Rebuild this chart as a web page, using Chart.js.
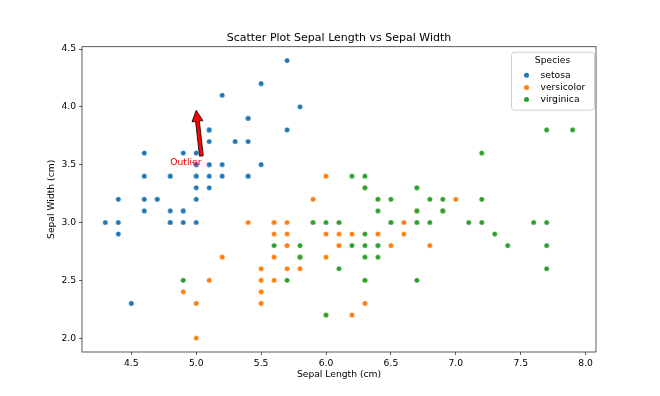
<!DOCTYPE html>
<html><head><meta charset="utf-8">
<script src="https://cdn.jsdelivr.net/npm/chart.js@4/dist/chart.umd.min.js"></script>
<style>html,body{margin:0;padding:0;background:#fff}</style>
</head><body>
<canvas id="c" width="660" height="396"></canvas>
<script>
const species = ['setosa', 'versicolor', 'virginica'];
const speciesColors = ['#1f77b4', '#ff7f0e', '#2ca02c'];

const setosaLength = [5.1,4.9,4.7,4.6,5.0,5.4,4.6,5.0,4.4,4.9,5.4,4.8,4.8,4.3,5.8,5.7,5.4,5.1,5.7,5.1,5.4,5.1,4.6,5.1,4.8,5.0,5.0,5.2,5.2,4.7,4.8,5.4,5.2,5.5,4.9,5.0,5.5,4.9,4.4,5.1,5.0,4.5,4.4,5.0,5.1,4.8,5.1,4.6,5.3,5.0];
const setosaWidth  = [3.5,3.0,3.2,3.1,3.6,3.9,3.4,3.4,2.9,3.1,3.7,3.4,3.0,3.0,4.0,4.4,3.9,3.5,3.8,3.8,3.4,3.7,3.6,3.3,3.4,3.0,3.4,3.5,3.4,3.2,3.1,3.4,4.1,4.2,3.1,3.2,3.5,3.6,3.0,3.4,3.5,2.3,3.2,3.5,3.8,3.0,3.8,3.2,3.7,3.3];

const versicolorLength = [7.0,6.4,6.9,5.5,6.5,5.7,6.3,4.9,6.6,5.2,5.0,5.9,6.0,6.1,5.6,6.7,5.6,5.8,6.2,5.6,5.9,6.1,6.3,6.1,6.4,6.6,6.8,6.7,6.0,5.7,5.5,5.5,5.8,6.0,5.4,6.0,6.7,6.3,5.6,5.5,5.5,6.1,5.8,5.0,5.6,5.7,5.7,6.2,5.1,5.7];
const versicolorWidth  = [3.2,3.2,3.1,2.3,2.8,2.8,3.3,2.4,2.9,2.7,2.0,3.0,2.2,2.9,2.9,3.1,3.0,2.7,2.2,2.5,3.2,2.8,2.5,2.8,2.9,3.0,2.8,3.0,2.9,2.6,2.4,2.4,2.7,2.7,3.0,3.4,3.1,2.3,3.0,2.5,2.6,3.0,2.6,2.3,2.7,3.0,2.9,2.9,2.5,2.8];

const virginicaLength = [6.3,5.8,7.1,6.3,6.5,7.6,4.9,7.3,6.7,7.2,6.5,6.4,6.8,5.7,5.8,6.4,6.5,7.7,7.7,6.0,6.9,5.6,7.7,6.3,6.7,7.2,6.2,6.1,6.4,7.2,7.4,7.9,6.4,6.3,6.1,7.7,6.3,6.4,6.0,6.9,6.7,6.9,5.8,6.8,6.7,6.7,6.3,6.5,6.2,5.9];
const virginicaWidth  = [3.3,2.7,3.0,2.9,3.0,3.0,2.5,2.9,2.5,3.6,3.2,2.7,3.0,2.5,2.8,3.2,3.0,3.8,2.6,2.2,3.2,2.8,2.8,2.7,3.3,3.2,2.8,3.0,2.8,3.0,2.8,3.8,2.8,2.8,2.6,3.0,3.4,3.1,3.0,3.1,3.1,3.1,2.7,3.2,3.3,3.0,2.5,3.0,3.4,3.0];

const xTicks = [4.5, 5.0, 5.5, 6.0, 6.5, 7.0, 7.5, 8.0];
const yTicks = [2.0, 2.5, 3.0, 3.5, 4.0, 4.5];
const xRange = [4.12, 8.08];
const yRange = [1.88, 4.52];

const chartTitle = 'Scatter Plot Sepal Length vs Sepal Width';
const xTitle = 'Sepal Length (cm)';
const yTitle = 'Sepal Width (cm)';
const legendTitle = 'Species';

const annotationText = 'Outlier';
const annotationTextAt = [4.92, 3.52];
const annotationTail = [5.04, 3.575];
const annotationTip = [5.0, 3.97];

const FONT = '"DejaVu Sans", sans-serif';

function zip(xs, ys) { return xs.map((x, i) => ({ x: x, y: ys[i] })); }

const seriesData = [
  zip(setosaLength, setosaWidth),
  zip(versicolorLength, versicolorWidth),
  zip(virginicaLength, virginicaWidth)
];

const decor = {
  id: 'decor',
  beforeDraw(chart) {
    const ctx = chart.ctx;
    ctx.save();
    ctx.fillStyle = '#fff';
    ctx.fillRect(0, 0, chart.width, chart.height);
    ctx.restore();
  },
  afterDatasetsDraw(chart) {
    const ctx = chart.ctx, ca = chart.chartArea;
    const xs = chart.scales.x, ys = chart.scales.y;
    ctx.save();
    // frame
    ctx.strokeStyle = '#333';
    ctx.lineWidth = 0.8;
    ctx.strokeRect(ca.left, ca.top, ca.right - ca.left, ca.bottom - ca.top);

    // title
    ctx.fillStyle = '#000';
    ctx.textAlign = 'center';
    ctx.textBaseline = 'middle';
    ctx.font = '11px ' + FONT;
    ctx.fillText(chartTitle, (ca.left + ca.right) / 2, ca.top - 9);

    // axis titles
    ctx.font = '9.2px ' + FONT;
    ctx.fillText(xTitle, (ca.left + ca.right) / 2, ca.bottom + 23);
    ctx.save();
    ctx.translate(ca.left - 30, (ca.top + ca.bottom) / 2);
    ctx.rotate(-Math.PI / 2);
    ctx.fillText(yTitle, 0, 0);
    ctx.restore();

    // annotation arrow
    const tx = xs.getPixelForValue(annotationTail[0]), ty = ys.getPixelForValue(annotationTail[1]);
    const hx = xs.getPixelForValue(annotationTip[0]), hy = ys.getPixelForValue(annotationTip[1]);
    const dx = hx - tx, dy = hy - ty, L = Math.hypot(dx, dy);
    const ux = dx / L, uy = dy / L, nx = -uy, ny = ux;
    const hl = 11, hw = 5.5, sw = 1.9;
    const bx = hx - ux * hl, by = hy - uy * hl;
    ctx.beginPath();
    ctx.moveTo(tx + nx * sw, ty + ny * sw);
    ctx.lineTo(bx + nx * sw, by + ny * sw);
    ctx.lineTo(bx + nx * hw, by + ny * hw);
    ctx.lineTo(hx, hy);
    ctx.lineTo(bx - nx * hw, by - ny * hw);
    ctx.lineTo(bx - nx * sw, by - ny * sw);
    ctx.lineTo(tx - nx * sw, ty - ny * sw);
    ctx.closePath();
    ctx.fillStyle = '#ff0000';
    ctx.fill();
    ctx.strokeStyle = '#000';
    ctx.lineWidth = 0.8;
    ctx.stroke();

    ctx.fillStyle = '#e00000';
    ctx.font = '9.2px ' + FONT;
    ctx.textAlign = 'center';
    ctx.textBaseline = 'middle';
    ctx.fillText(annotationText, xs.getPixelForValue(annotationTextAt[0]), ys.getPixelForValue(annotationTextAt[1]));

    // legend
    const bw = 83, bh = 58;
    const bxr = ca.right - 2, byt = ca.top + 5;
    const lx = bxr - bw;
    ctx.beginPath();
    ctx.roundRect(lx + 0.5, byt + 0.5, bw, bh, 3);
    ctx.fillStyle = 'rgba(255,255,255,0.8)';
    ctx.fill();
    ctx.strokeStyle = '#d0d0d0';
    ctx.lineWidth = 1;
    ctx.stroke();
    ctx.fillStyle = '#000';
    ctx.textAlign = 'center';
    ctx.fillText(legendTitle, lx + bw / 2, byt + 9);
    chart.data.datasets.forEach((ds, i) => {
      const ry = byt + 23.5 + i * 12.2;
      ctx.beginPath();
      ctx.arc(lx + 15.5, ry, 2.5, 0, Math.PI * 2);
      ctx.fillStyle = ds.backgroundColor;
      ctx.fill();
      ctx.fillStyle = '#000';
      ctx.textAlign = 'left';
      ctx.fillText(ds.label, lx + 29.5, ry);
    });
    ctx.restore();
  }
};

new Chart(document.getElementById('c'), {
  type: 'scatter',
  data: {
    datasets: species.map((name, i) => ({
      label: name,
      data: seriesData[i],
      backgroundColor: speciesColors[i],
      borderColor: '#ffffff',
      borderWidth: 0.4,
      pointRadius: 2.6,
      order: 2 - i
    }))
  },
  options: {
    responsive: false,
    devicePixelRatio: 1,
    animation: false,
    events: [],
    layout: { padding: { top: 46.7, right: 64, bottom: 0, left: 0 } },
    plugins: { legend: { display: false }, tooltip: { enabled: false }, title: { display: false } },
    scales: {
      x: {
        type: 'linear',
        min: xRange[0], max: xRange[1],
        afterFit(s) { s.height = 44; },
        afterBuildTicks(s) { s.ticks = xTicks.map(v => ({ value: v })); },
        grid: { drawOnChartArea: false, drawTicks: true, tickLength: 3, color: '#333', lineWidth: 0.8 },
        border: { display: false },
        ticks: { autoSkip: false, maxRotation: 0, padding: 3, color: '#000', font: { family: FONT, size: 9.2 },
                 callback: v => Number(v).toFixed(1) }
      },
      y: {
        type: 'linear',
        min: yRange[0], max: yRange[1],
        afterFit(s) { s.width = 82; },
        afterBuildTicks(s) { s.ticks = yTicks.map(v => ({ value: v })); },
        grid: { drawOnChartArea: false, drawTicks: true, tickLength: 3, color: '#333', lineWidth: 0.8 },
        border: { display: false },
        ticks: { autoSkip: false, padding: 3, color: '#000', font: { family: FONT, size: 9.2 },
                 callback: v => Number(v).toFixed(1) }
      }
    }
  },
  plugins: [decor]
});
</script>
</body></html>
